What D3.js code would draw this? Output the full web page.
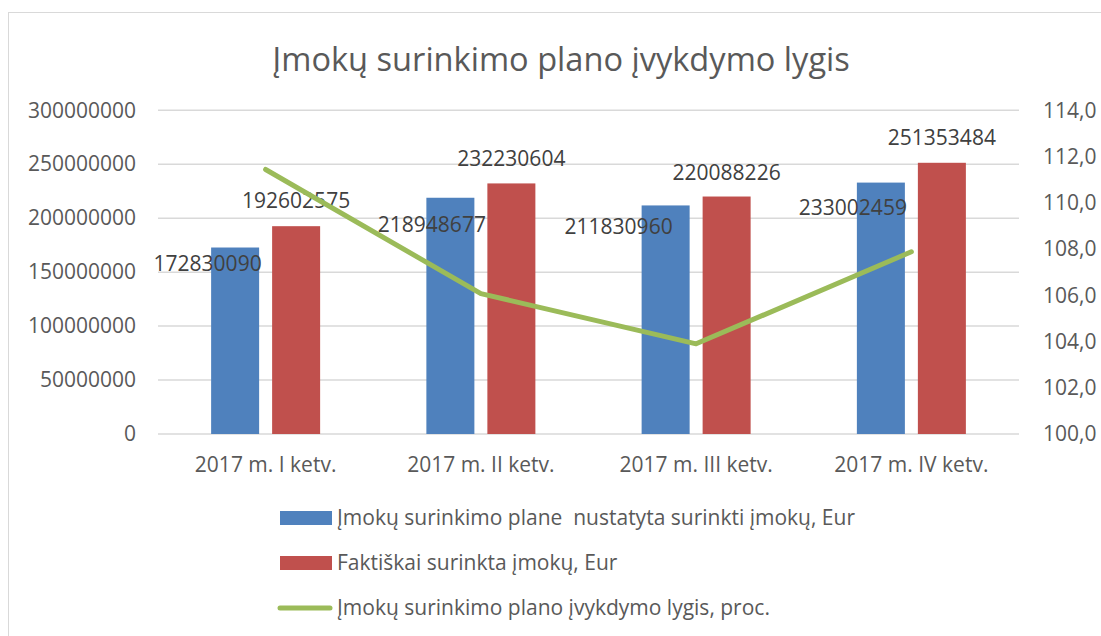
<!DOCTYPE html>
<html>
<head>
<meta charset="utf-8">
<script src="https://cdn.jsdelivr.net/npm/d3@7"></script>
<style>
  html, body { margin: 0; padding: 0; background: #fff; }
  svg { display: block; font-family: "Open Sans", sans-serif; }
</style>
</head>
<body>
<svg id="chart" width="1101" height="636"></svg>
<script>
// ---- data ----
const categories = ["2017 m. I ketv.", "2017 m. II ketv.", "2017 m. III ketv.", "2017 m. IV ketv."];
const planned = [172830090, 218948677, 211830960, 233002459];
const actual = [192602575, 232230604, 220088226, 251353484];
const fulfilment = [111.44, 106.07, 103.90, 107.88];
const leftTicks = [0, 50000000, 100000000, 150000000, 200000000, 250000000, 300000000];
const rightTicks = [100, 102, 104, 106, 108, 110, 112, 114];
const seriesNames = [
  "Įmokų surinkimo plane  nustatyta surinkti įmokų, Eur",
  "Faktiškai surinkta įmokų, Eur",
  "Įmokų surinkimo plano įvykdymo lygis, proc."
];
const title = "Įmokų surinkimo plano įvykdymo lygis";

// ---- style / layout ----
const colors = ["#4F81BD", "#C0504D", "#9BBB59"];
const textColor = "#595959";
const labelColor = "#404040";
const gridColor = "#d9d9d9";
const plot = { left: 158, right: 1019, top: 110.3, bottom: 434 };
// manual data-label nudges (dx from bar centre, dy of label centre from bar top)
const labelNudge = {
  plan:   [[-27.5, 15.5], [-18.5, 27], [-47, 21.4], [-28, 25]],
  actual: [[0, -25.5], [0, -24.5], [0, -24.4], [0, -24.8]]
};

const svg = d3.select("#chart");

// chart frame
svg.append("rect")
  .attr("x", 8.5).attr("y", 12.5)
  .attr("width", 1200).attr("height", 700)
  .attr("fill", "#fff").attr("stroke", gridColor).attr("stroke-width", 1);

// scales
const x = d3.scaleBand().domain(categories).range([plot.left, plot.right]).paddingInner(0).paddingOuter(0);
const xInner = d3.scaleBand().domain(["plan", "actual"]).range([-54.5, 54.5]).paddingInner(0.213);
const yL = d3.scaleLinear().domain([0, 300000000]).range([plot.bottom, plot.top]);
const yR = d3.scaleLinear().domain([100, 114]).range([plot.bottom, plot.top]);

// gridlines
svg.append("g")
  .selectAll("line")
  .data(leftTicks)
  .join("line")
  .attr("x1", plot.left).attr("x2", plot.right)
  .attr("y1", d => yL(d)).attr("y2", d => yL(d))
  .attr("stroke", gridColor).attr("stroke-width", 1.5);

// left axis
const leftAxis = d3.axisLeft(yL).tickValues(leftTicks).tickFormat(d3.format("d")).tickSize(0).tickPadding(0);
const gL = svg.append("g").attr("transform", `translate(136,0)`).call(leftAxis);
gL.select(".domain").remove();
gL.selectAll("text").attr("fill", textColor).style("font-size", "21px").style("font-family", "Open Sans");

// right axis
const fmtR = d => d3.format(".1f")(d).replace(".", ",");
const rightAxis = d3.axisRight(yR).tickValues(rightTicks).tickFormat(fmtR).tickSize(0).tickPadding(0);
const gR = svg.append("g").attr("transform", `translate(1043,0)`).call(rightAxis);
gR.select(".domain").remove();
gR.selectAll("text").attr("fill", textColor).style("font-size", "21px").style("font-family", "Open Sans");

// bottom axis labels
const bottomAxis = d3.axisBottom(x).tickSize(0).tickPadding(0);
const gB = svg.append("g").attr("transform", `translate(0,${plot.bottom})`).call(bottomAxis);
gB.select(".domain").remove();
gB.selectAll("text").attr("fill", textColor).attr("y", 38).attr("dy", 0)
  .style("font-size", "21px").style("font-family", "Open Sans");

// bars
const barData = [];
categories.forEach((c, i) => {
  barData.push({ cat: c, key: "plan", value: planned[i], i });
  barData.push({ cat: c, key: "actual", value: actual[i], i });
});
const cx = c => x(c) + x.bandwidth() / 2;

svg.append("g")
  .selectAll("rect")
  .data(barData)
  .join("rect")
  .attr("x", d => cx(d.cat) + xInner(d.key))
  .attr("width", xInner.bandwidth())
  .attr("y", d => yL(d.value))
  .attr("height", d => yL(0) - yL(d.value))
  .attr("fill", d => d.key === "plan" ? colors[0] : colors[1]);

// data labels
svg.append("g")
  .selectAll("text")
  .data(barData)
  .join("text")
  .attr("x", d => cx(d.cat) + xInner(d.key) + xInner.bandwidth() / 2 + labelNudge[d.key][d.i][0])
  .attr("y", d => yL(d.value) + labelNudge[d.key][d.i][1] + 7.5)
  .attr("text-anchor", "middle")
  .attr("fill", labelColor)
  .style("font-size", "21px")
  .text(d => d.value);

// line
const line = d3.line()
  .x((d, i) => cx(categories[i]))
  .y(d => yR(d));
svg.append("path")
  .datum(fulfilment)
  .attr("d", line)
  .attr("fill", "none")
  .attr("stroke", colors[2])
  .attr("stroke-width", 5)
  .attr("stroke-linejoin", "round")
  .attr("stroke-linecap", "round");

// title
const t = svg.append("text")
  .attr("x", 561).attr("y", 71)
  .attr("text-anchor", "middle")
  .attr("fill", textColor)
  .style("font-size", "32px")
  .text(title);
const tw = t.node().getComputedTextLength();
t.style("font-size", (32 * 578 / tw).toFixed(2) + "px");

// legend
const legendRows = [518, 563, 608];
const lg = svg.append("g");
seriesNames.forEach((name, i) => {
  const cy = legendRows[i];
  if (i < 2) {
    lg.append("rect").attr("x", 280).attr("y", cy - 7).attr("width", 52).attr("height", 14).attr("fill", colors[i]);
  } else {
    lg.append("line").attr("x1", 280).attr("x2", 330).attr("y1", cy).attr("y2", cy)
      .attr("stroke", colors[2]).attr("stroke-width", 5).attr("stroke-linecap", "round");
  }
  lg.append("text")
    .attr("x", 337).attr("y", cy + 7)
    .attr("fill", textColor)
    .style("font-size", "21px")
    .style("white-space", "pre")
    .attr("xml:space", "preserve")
    .text(name);
});
</script>
</body>
</html>
